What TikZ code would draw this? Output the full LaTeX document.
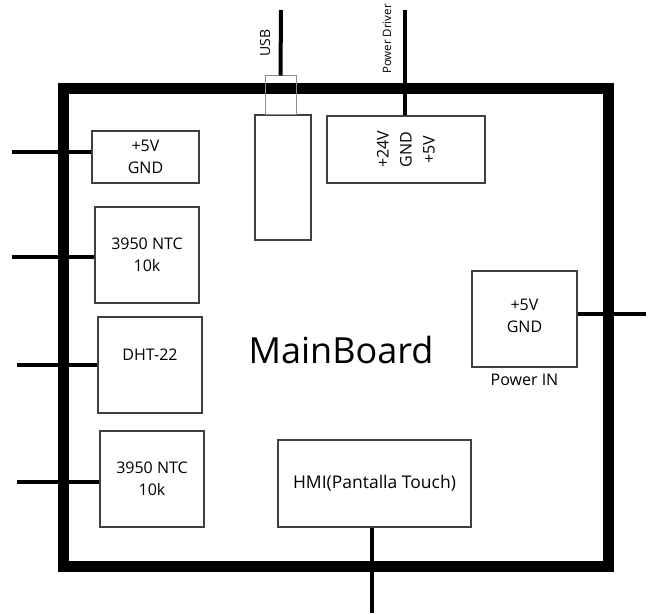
\documentclass[tikz,border=0pt]{standalone}
\usepackage{fontspec}
\setmainfont{Open Sans}
\usetikzlibrary{positioning}

\begin{document}
\begin{tikzpicture}[x=1pt, y=-1pt]
  \tikzstyle{caja} = [rectangle, draw=black!75, line width=1.5pt, align=center,
    inner sep=0pt, font=\fontsize{16}{22}\selectfont]
  \tikzstyle{cable} = [draw=black, line width=4pt]
  \useasboundingbox (0,0) rectangle (648,615);

  % Placa principal
  \draw[line width=11pt] (63.5,88.5) rectangle (608,566);
  \node[font=\fontsize{36}{40}\selectfont] (placa) at (341,350) {MainBoard};

  % Sensores (izquierda)
  \node[caja, minimum width=107, minimum height=52] (alim) at (145.5,157) {+5V\\GND};
  \node[caja, minimum width=104, minimum height=96] (ntc1) at (147,255) {3950 NTC\\10k};
  \node[caja, minimum width=104, minimum height=96, text depth=20pt] (dht) at (150,365) {DHT-22};
  \node[caja, minimum width=104, minimum height=96] (ntc2) at (152,479) {3950 NTC\\10k};
  \foreach \caja/\y/\x in {alim/152/12, ntc1/257/12, dht/365/17, ntc2/482/17} {
    \coordinate (fin-\caja) at (\x,\y);
    \draw[cable] (fin-\caja) -- (fin-\caja -| \caja.west);
  }

  % USB
  \node[caja, minimum width=56, minimum height=125] (usb) at (283,177.5) {};
  \node[rectangle, draw=black!45, line width=1pt, minimum width=31, minimum height=39] (usbcon) at (280.5,95.5) {};
  \coordinate (fin-usb) at (281,10);
  \draw[cable] (fin-usb) -- (usbcon.north);
  \node[rotate=90, font=\fontsize{14}{16}\selectfont] (usbtxt) at (265,43) {USB};

  % Power Driver
  \node[caja, rotate=90, minimum width=67, minimum height=158,
    font=\fontsize{16}{23}\selectfont] (driver) at (406,149.5) {+24V\\GND\\+5V};
  \coordinate (fin-driver) at (405,10);
  \draw[cable] (fin-driver) -- (fin-driver |- driver.east);
  \node[rotate=90, font=\fontsize{11.5}{14}\selectfont] (drivertxt) at (387,39) {Power Driver};

  % Power IN
  \node[caja, minimum width=105, minimum height=96, text depth=7pt,
    label={[font=\fontsize{16}{22}\selectfont, yshift=-3pt]below:Power IN}] (pin) at (524.5,319) {+5V\\GND};
  \coordinate (fin-pin) at (646,314);
  \draw[cable] (fin-pin) -- (fin-pin -| pin.east);

  % HMI
  \node[caja, minimum width=193, minimum height=87,
    font=\fontsize{17.5}{22}\selectfont] (hmi) at (374.5,483.5) {HMI(Pantalla Touch)};
  \coordinate (fin-hmi) at (372,613);
  \draw[cable] (fin-hmi) -- (fin-hmi |- hmi.south);
\end{tikzpicture}
\end{document}
